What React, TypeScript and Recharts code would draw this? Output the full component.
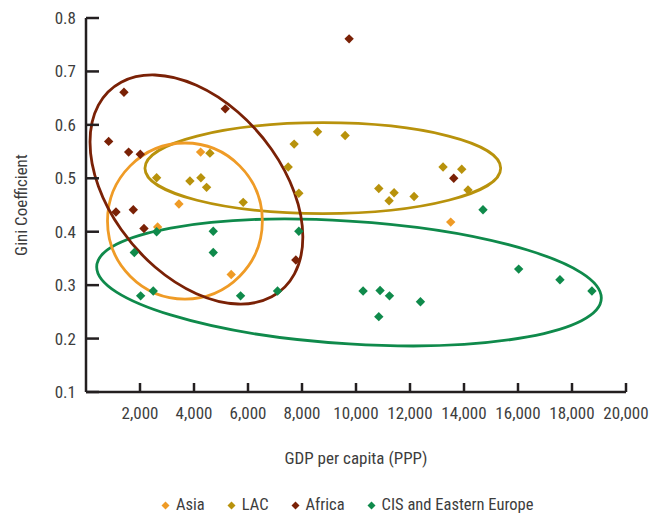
import React from 'react';
import { ScatterChart, Scatter, XAxis, YAxis } from 'recharts';

// ---------- data (GDP per capita PPP, Gini coefficient) ----------
const asia = [
  { x: 4245, y: 0.549 },
  { x: 3442, y: 0.452 },
  { x: 2653, y: 0.409 },
  { x: 5378, y: 0.32 },
  { x: 13508, y: 0.418 },
];

const lac = [
  { x: 4589, y: 0.547 },
  { x: 7709, y: 0.564 },
  { x: 8575, y: 0.587 },
  { x: 9597, y: 0.58 },
  { x: 2616, y: 0.501 },
  { x: 3849, y: 0.495 },
  { x: 4256, y: 0.501 },
  { x: 4466, y: 0.483 },
  { x: 5823, y: 0.455 },
  { x: 7488, y: 0.521 },
  { x: 7883, y: 0.472 },
  { x: 10844, y: 0.481 },
  { x: 11411, y: 0.473 },
  { x: 11226, y: 0.458 },
  { x: 12151, y: 0.466 },
  { x: 13224, y: 0.521 },
  { x: 13916, y: 0.517 },
  { x: 14149, y: 0.478 },
];

const africa = [
  { x: 1406, y: 0.661 },
  { x: 5157, y: 0.63 },
  { x: 839, y: 0.569 },
  { x: 1579, y: 0.549 },
  { x: 2011, y: 0.545 },
  { x: 1110, y: 0.437 },
  { x: 1752, y: 0.441 },
  { x: 2147, y: 0.406 },
  { x: 7772, y: 0.347 },
  { x: 9745, y: 0.761 },
  { x: 13620, y: 0.5 },
];

const cis = [
  { x: 2616, y: 0.4 },
  { x: 4713, y: 0.401 },
  { x: 7883, y: 0.401 },
  { x: 1789, y: 0.361 },
  { x: 4713, y: 0.361 },
  { x: 2024, y: 0.28 },
  { x: 2491, y: 0.289 },
  { x: 5725, y: 0.28 },
  { x: 7094, y: 0.289 },
  { x: 14704, y: 0.441 },
  { x: 16025, y: 0.33 },
  { x: 17554, y: 0.31 },
  { x: 18738, y: 0.289 },
  { x: 10263, y: 0.289 },
  { x: 10892, y: 0.29 },
  { x: 11240, y: 0.28 },
  { x: 12387, y: 0.269 },
  { x: 10844, y: 0.241 },
];

// Ellipses: [end of first semi-diameter, centre, end of conjugate semi-diameter] in data units
const asiaEllipse = [
  { x: 6532, y: 0.42 },
  { x: 3664, y: 0.42 },
  { x: 3664, y: 0.566 },
];
const lacEllipse = [
  { x: 15359, y: 0.519 },
  { x: 8771, y: 0.519 },
  { x: 8771, y: 0.604 },
];
const africaEllipse = [
  { x: 8031, y: 0.39 },
  { x: 4090, y: 0.479 },
  { x: 4090, y: 0.674 },
];
const cisEllipse = [
  { x: 19086, y: 0.276 },
  { x: 9741, y: 0.305 },
  { x: 9741, y: 0.42 },
];

const xTicks = [2000, 4000, 6000, 8000, 10000, 12000, 14000, 16000, 18000, 20000];
const yTicks = [0.1, 0.2, 0.3, 0.4, 0.5, 0.6, 0.7, 0.8];
const seriesNames = ['Asia', 'LAC', 'Africa', 'CIS and Eastern Europe'];

// ---------- styles ----------
const COLORS = ['#ef9b26', '#b8920c', '#7a2106', '#0f8a4b'];
const AXIS = '#231f20';
const TEXT = '#3d3d3d';
const FONT = '"Liberation Sans Narrow", "Arial Narrow", "Roboto Condensed", "DejaVu Sans Condensed", sans-serif';
const FS = 17;
const X_TM = 15;
const Y_TM = 10;

const XTick = (props: any) => {
  const { x, y, payload } = props;
  const axisY = y - X_TM;
  return (
    <g>
      <line x1={x} x2={x} y1={axisY} y2={axisY - 9} stroke={AXIS} strokeWidth={2.5} />
      <text x={x} y={y} dy="0.71em" textAnchor="middle" fill={TEXT} fontSize={FS} fontFamily={FONT}>
        {Number(payload.value).toLocaleString('en-US')}
      </text>
    </g>
  );
};

const YTick = (props: any) => {
  const { x, y, payload } = props;
  const axisX = x + Y_TM;
  return (
    <g>
      <line x1={axisX} x2={axisX + 13} y1={y} y2={y} stroke={AXIS} strokeWidth={2.5} />
      <text x={x} y={y} dy="0.35em" textAnchor="end" fill={TEXT} fontSize={FS} fontFamily={FONT}>
        {String(payload.value)}
      </text>
    </g>
  );
};

const Diamond = (props: any) => {
  const { cx, cy, fill } = props;
  if (cx == null || cy == null) return <g />;
  const r = 4.7;
  return <polygon points={`${cx},${cy - r} ${cx + r},${cy} ${cx},${cy + r} ${cx - r},${cy}`} fill={fill} />;
};

const Nothing = () => <g />;

const ellipseLine = (color: string) => (props: any) => {
  const pts = props.points;
  if (!pts || pts.length < 3) return <g />;
  const c = pts[1];
  const u = { x: pts[0].x - c.x, y: pts[0].y - c.y };
  const v = { x: pts[2].x - c.x, y: pts[2].y - c.y };
  const k = 0.5523;
  const P = (a: number, b: number) => `${c.x + a * u.x + b * v.x},${c.y + a * u.y + b * v.y}`;
  const d =
    `M${P(1, 0)} ` +
    `C${P(1, k)} ${P(k, 1)} ${P(0, 1)} ` +
    `C${P(-k, 1)} ${P(-1, k)} ${P(-1, 0)} ` +
    `C${P(-1, -k)} ${P(-k, -1)} ${P(0, -1)} ` +
    `C${P(k, -1)} ${P(1, -k)} ${P(1, 0)} Z`;
  return <path d={d} fill="none" stroke={color} strokeWidth={2.8} />;
};

const series = [asia, lac, africa, cis];
const ellipses = [cisEllipse, lacEllipse, asiaEllipse, africaEllipse];
const ellipseColors = [COLORS[3], COLORS[1], COLORS[0], COLORS[2]];

export default function App() {
  return (
    <div style={{ position: 'relative', width: 643, height: 506, fontFamily: FONT }}>
      <ScatterChart width={643} height={506} margin={{ top: 10, right: 25, bottom: 0, left: 0 }}>
        <XAxis
          type="number"
          dataKey="x"
          domain={[0, 20000]}
          ticks={xTicks}
          height={122}
          tickSize={0}
          tickMargin={X_TM}
          tickLine={false}
          tick={<XTick />}
          axisLine={{ stroke: AXIS, strokeWidth: 2.5 }}
          interval={0}
          label={{
            value: 'GDP per capita (PPP)',
            position: 'insideTop',
            offset: 60,
            fill: TEXT,
            fontSize: FS,
            fontFamily: FONT,
          }}
        />
        <YAxis
          type="number"
          dataKey="y"
          domain={[0.1, 0.8]}
          ticks={yTicks}
          width={78}
          tickSize={0}
          tickMargin={Y_TM}
          tickLine={false}
          tick={<YTick />}
          axisLine={{ stroke: AXIS, strokeWidth: 2.5 }}
          interval={0}
          label={{
            value: 'Gini Coefficient',
            angle: -90,
            position: 'insideLeft',
            offset: 13,
            fill: TEXT,
            fontSize: FS,
            fontFamily: FONT,
            style: { textAnchor: 'middle' },
          }}
        />
        {ellipses.map((e, i) => (
          <Scatter
            key={'e' + i}
            data={e}
            fill={ellipseColors[i]}
            shape={<Nothing />}
            line={ellipseLine(ellipseColors[i])}
            lineType="joint"
            isAnimationActive={false}
          />
        ))}
        {series.map((s, i) => (
          <Scatter
            key={seriesNames[i]}
            name={seriesNames[i]}
            data={s}
            fill={COLORS[i]}
            shape={<Diamond />}
            isAnimationActive={false}
          />
        ))}
      </ScatterChart>
      <div
        style={{
          position: 'absolute',
          left: 153,
          top: 487,
          height: 20,
          lineHeight: '20px',
          display: 'flex',
          alignItems: 'center',
          whiteSpace: 'nowrap',
          fontSize: 16.5,
          color: TEXT,
        }}
      >
        {seriesNames.map((n, i) => (
          <div key={n} style={{ display: 'flex', alignItems: 'center', marginRight: 22 }}>
            <svg width={9} height={9} style={{ marginRight: 6 }}>
              <polygon points="4.5,0.5 8.5,4.5 4.5,8.5 0.5,4.5" fill={COLORS[i]} />
            </svg>
            <span>{n}</span>
          </div>
        ))}
      </div>
    </div>
  );
}
